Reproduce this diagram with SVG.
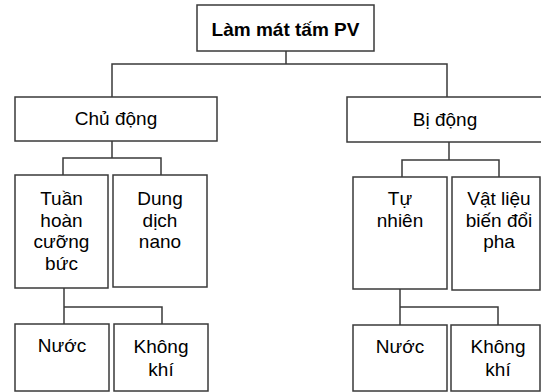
<svg xmlns="http://www.w3.org/2000/svg" width="541" height="392" viewBox="0 0 541 392">
<style>
.box{fill:#fff;stroke:#3a3a3a;stroke-width:1.5}
.ln{fill:none;stroke:#3a3a3a;stroke-width:1.5}
text{font-family:"Liberation Sans",Arial,sans-serif;font-size:19px;fill:#000;text-anchor:middle}
.t{font-weight:bold;font-size:19px}
</style>
<rect width="541" height="392" fill="#fff"/>
<g id="connectors">
<polyline class="ln" points="286,51 286,64"/>
<polyline class="ln" points="112,97 112,64 447,64 447,97"/>
<polyline class="ln" points="112,141 112,158"/>
<polyline class="ln" points="63,175 63,158 161,158 161,175"/>
<polyline class="ln" points="449,142 449,160"/>
<polyline class="ln" points="402,177 402,160 499,160 499,177"/>
<polyline class="ln" points="64,288 64,324"/>
<polyline class="ln" points="64,307 162,307 162,324"/>
<polyline class="ln" points="400,289 400,325"/>
<polyline class="ln" points="400,307 498,307 498,325"/>
</g>
<g id="root"><rect class="box" x="197" y="5" width="177" height="46"/><text class="t" x="285.5" y="36">Làm mát tấm PV</text></g>
<g id="chudong"><rect class="box" x="15" y="97" width="202" height="44"/><text x="116" y="125">Chủ động</text></g>
<g id="bidong"><rect class="box" x="347" y="97" width="200" height="45"/><text x="445" y="126">Bị động</text></g>
<g id="tuanhoan"><rect class="box" x="15" y="175" width="93" height="113"/><text x="61.5" y="205">Tuần</text><text x="61.5" y="227">hoàn</text><text x="61.5" y="248">cưỡng</text><text x="61.5" y="270">bức</text></g>
<g id="dungdich"><rect class="box" x="113" y="175" width="94" height="112"/><text x="160" y="205">Dung</text><text x="160" y="227">dịch</text><text x="160" y="248">nano</text></g>
<g id="tunhien"><rect class="box" x="353" y="177" width="94" height="112"/><text x="400" y="205">Tự</text><text x="400" y="227">nhiên</text></g>
<g id="vatlieu"><rect class="box" x="452" y="177" width="88" height="113"/><text x="499" y="205">Vật liệu</text><text x="499" y="227">biến đổi</text><text x="499" y="248">pha</text></g>
<g id="nuoc1"><rect class="box" x="15" y="324" width="94" height="67"/><text x="62" y="352">Nước</text></g>
<g id="khongkhi1"><rect class="box" x="114" y="324" width="94" height="67"/><text x="161" y="353">Không</text><text x="161" y="376">khí</text></g>
<g id="nuoc2"><rect class="box" x="353" y="325" width="94" height="66"/><text x="400" y="353">Nước</text></g>
<g id="khongkhi2"><rect class="box" x="451" y="325" width="89" height="66"/><text x="498" y="353">Không</text><text x="498" y="376">khí</text></g>
</svg>
